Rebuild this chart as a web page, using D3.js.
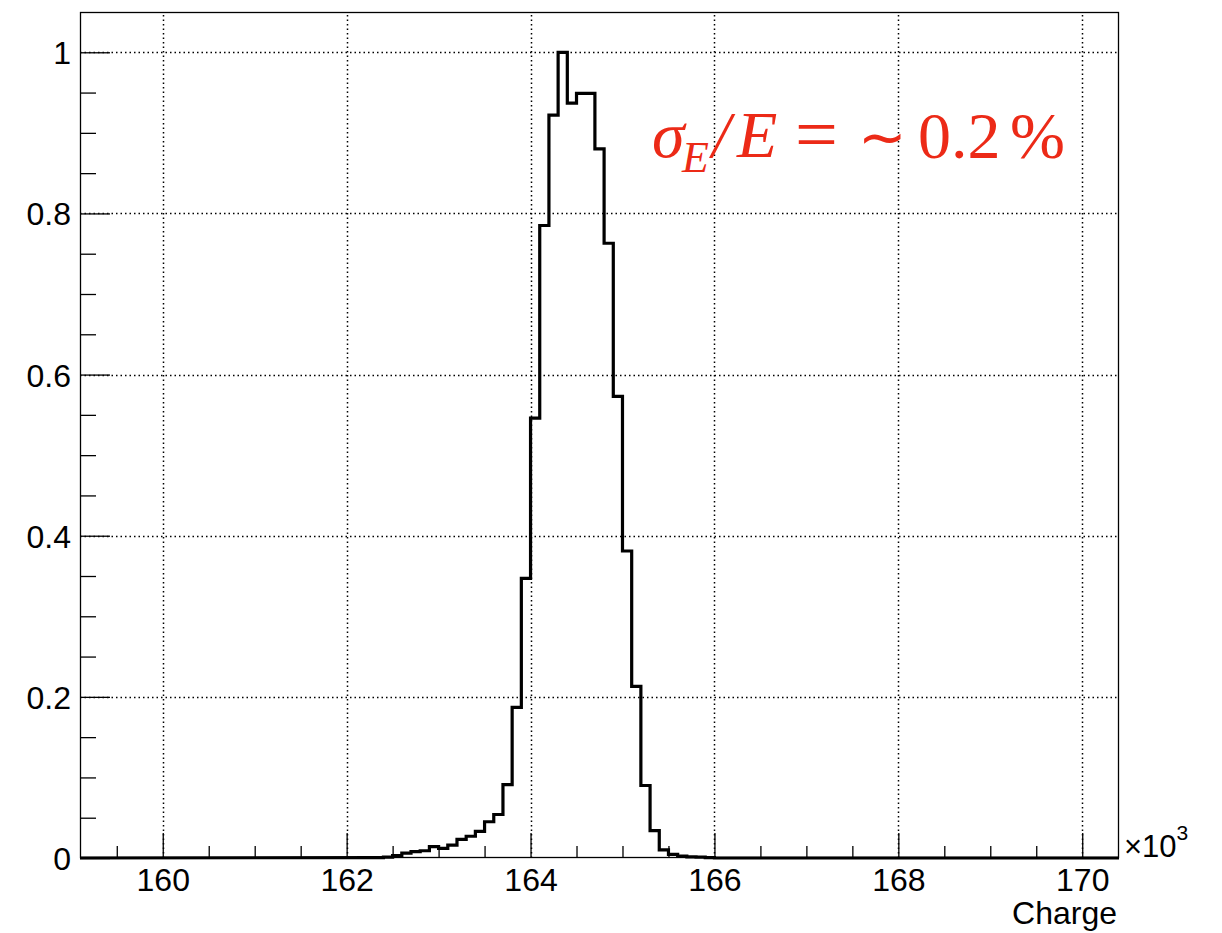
<!DOCTYPE html>
<html>
<head>
<meta charset="utf-8">
<script src="https://cdn.jsdelivr.net/npm/d3@7"></script>
<style>
  html, body { margin: 0; padding: 0; background: #fff; }
  svg { display: block; }
</style>
</head>
<body>
<svg id="chart" width="1222" height="933"></svg>
<script>
// ---- data (charge in units of 10^3) ----
const xDomain = [159.1, 170.4];
const yDomain = [0, 1.05];
const binWidth = 0.1;
const binLow = [162.3, 162.4, 162.5, 162.6, 162.7, 162.8, 162.9, 163.0, 163.1, 163.2,
                163.3, 163.4, 163.5, 163.6, 163.7, 163.8, 163.9, 164.0, 164.1, 164.2,
                164.3, 164.4, 164.5, 164.6, 164.7, 164.8, 164.9, 165.0, 165.1, 165.2,
                165.3, 165.4, 165.5, 165.6, 165.7, 165.8, 165.9];
const counts = [0.0005, 0.001, 0.003, 0.006, 0.008, 0.009, 0.014, 0.012, 0.016, 0.023,
                0.027, 0.033, 0.045, 0.054, 0.091, 0.187, 0.347, 0.546, 0.785, 0.922,
                1.000, 0.937, 0.949, 0.949, 0.880, 0.763, 0.573, 0.381, 0.213, 0.090,
                0.034, 0.010, 0.0045, 0.0025, 0.0015, 0.001, 0.0005];
const xMajorTicks = [160, 162, 164, 166, 168, 170];
const xMinorTicks = [159.5, 160.5, 161, 161.5, 162.5, 163, 163.5, 164.5, 165, 165.5,
                     166.5, 167, 167.5, 168.5, 169, 169.5];
const yMajorTicks = [0, 0.2, 0.4, 0.6, 0.8, 1];
const yTickLabels = ["0", "0.2", "0.4", "0.6", "0.8", "1"];
const yMinorTicks = [0.05, 0.1, 0.15, 0.25, 0.3, 0.35, 0.45, 0.5, 0.55, 0.65, 0.7, 0.75,
                     0.85, 0.9, 0.95];
const xTitle = "Charge";

// ---- layout ----
const L = 80, R = 1119, T = 12, B = 858;
const svg = d3.select("#chart");
const x = d3.scaleLinear().domain(xDomain).range([L, R]);
const y = d3.scaleLinear().domain(yDomain).range([B, T]);
const font = "'Liberation Sans', Arial, Helvetica, sans-serif";

// grid (dotted)
const grid = svg.append("g").attr("stroke", "#000").attr("stroke-width", 1.5)
  .attr("stroke-dasharray", "1.5,3");
grid.selectAll("line.gx").data(xMajorTicks).join("line")
  .attr("x1", d => Math.round(x(d)) + 0.5).attr("x2", d => Math.round(x(d)) + 0.5)
  .attr("y1", B).attr("y2", T);
grid.selectAll("line.gy").data(yMajorTicks.filter(d => d > 0)).join("line")
  .attr("y1", d => Math.round(y(d)) + 0.5).attr("y2", d => Math.round(y(d)) + 0.5)
  .attr("x1", L).attr("x2", R);

// axes
const yAxis = d3.axisLeft(y).tickValues(yMajorTicks).tickSize(-30).tickPadding(9)
  .tickFormat((d, i) => yTickLabels[i]);
const yAxisMinor = d3.axisLeft(y).tickValues(yMinorTicks).tickSize(-16).tickFormat("");
const xAxis = d3.axisBottom(x).tickValues(xMajorTicks).tickSize(-25).tickPadding(10)
  .tickFormat(d3.format("d"));
const xAxisMinor = d3.axisBottom(x).tickValues(xMinorTicks).tickSize(-12).tickFormat("");

function styleAxis(g) {
  g.select(".domain").remove();
  g.selectAll(".tick line").attr("stroke", "#000").attr("stroke-width", 1.3);
  g.selectAll("text").attr("font-family", font).attr("font-size", 32).attr("fill", "#000");
}
const gy = svg.append("g").attr("transform", `translate(${L},0)`).call(yAxis).call(styleAxis);
svg.append("g").attr("transform", `translate(${L},0)`).call(yAxisMinor).call(styleAxis);
const gx = svg.append("g").attr("transform", `translate(0,${B})`).call(xAxis).call(styleAxis);
svg.append("g").attr("transform", `translate(0,${B})`).call(xAxisMinor).call(styleAxis);
gy.selectAll(".tick text").attr("dy", "0.36em");
gx.selectAll(".tick text").attr("dy", "0.71em");

// frame
svg.append("rect").attr("x", L + 0.5).attr("y", T + 0.5)
  .attr("width", R - L - 1).attr("height", B - T - 1)
  .attr("fill", "none").attr("stroke", "#000").attr("stroke-width", 1.3);

// histogram (step outline)
let pathD = "M" + x(xDomain[0]) + "," + y(0);
binLow.forEach((lo, i) => {
  const x0 = x(lo), x1 = x(lo + binWidth), yy = y(counts[i]);
  pathD += "L" + x0 + "," + yy + "L" + x1 + "," + yy;
});
pathD += "L" + x(binLow[binLow.length - 1] + binWidth) + "," + y(0) + "L" + x(xDomain[1]) + "," + y(0);
svg.append("path").attr("d", pathD).attr("fill", "none").attr("stroke", "#000")
  .attr("stroke-width", 3.2).attr("stroke-linejoin", "miter");

// axis title and multiplier
svg.append("text").attr("x", R - 2).attr("y", 924).attr("text-anchor", "end")
  .attr("font-family", font).attr("font-size", 32).text(xTitle);
const mult = svg.append("text").attr("x", 1124).attr("y", 857)
  .attr("font-family", font).attr("font-size", 31);
mult.append("tspan").text("\u00d710");
mult.append("tspan").attr("font-size", 21).attr("dy", -17).text("3");

// annotation
const red = "#ec2a17";
const serif = "'Liberation Serif', 'Times New Roman', Times, serif";
const ann = svg.append("g").attr("fill", red).attr("font-family", serif);
const pieces = [
  {t: "\u03c3", x: 652, y: 157, s: 66, it: true},
  {t: "E", x: 682, y: 172, s: 44, it: true},
  {t: "/", x: 712, y: 157, s: 66, it: true},
  {t: "E", x: 737, y: 157, s: 66, it: true},
  {t: "=", x: 795, y: 160, s: 76, it: false},
  {t: "\u223c", x: 858, y: 157, s: 58, it: false},
  {t: "0.2", x: 918, y: 158, s: 66, it: false},
  {t: "%", x: 1010, y: 158, s: 66, it: false}
];
ann.selectAll("text").data(pieces).join("text")
  .attr("x", d => d.x).attr("y", d => d.y).attr("font-size", d => d.s)
  .attr("font-style", d => d.it ? "italic" : "normal").text(d => d.t);
</script>
</body>
</html>
